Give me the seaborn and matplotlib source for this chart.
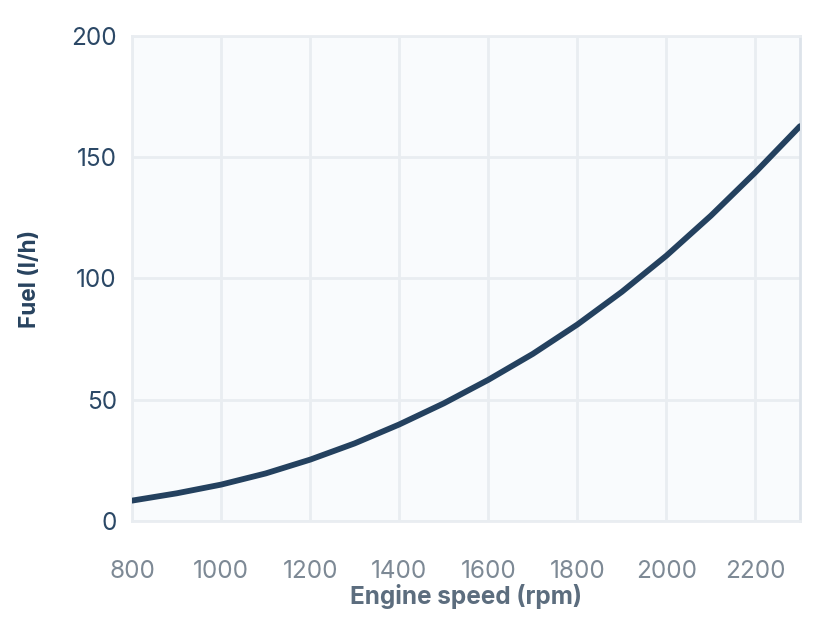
import matplotlib
matplotlib.use("Agg")
import matplotlib.pyplot as plt
import seaborn as sns
import pandas as pd

rpm = [800, 900, 1000, 1100, 1200, 1300, 1400, 1500, 1600, 1700, 1800, 1900, 2000, 2100, 2200, 2300]
fuel = [8.4, 11.4, 15.0, 19.6, 25.3, 32.0, 39.8, 48.5, 58.2, 68.9, 81.0, 94.5, 109.4, 125.9, 143.8, 162.8]
xticks = [800, 1000, 1200, 1400, 1600, 1800, 2000, 2200]
yticks = [0, 50, 100, 150, 200]

df = pd.DataFrame({"rpm": rpm, "fuel": fuel})

sns.set_style("white")
plt.rcParams["font.family"] = ["Inter", "DejaVu Sans"]

fig = plt.figure(figsize=(8.18, 6.2), dpi=100)
ax = fig.add_axes([0.1614, 0.1597, 0.8166, 0.7823])
ax.set_facecolor("#f9fbfd")

sns.lineplot(data=df, x="rpm", y="fuel", ax=ax, color="#24415f", linewidth=4.2,
             zorder=3, solid_joinstyle="round")

ax.set_xlim(800, 2300)
ax.set_ylim(0, 200)
ax.set_xticks(xticks)
ax.set_yticks(yticks)
ax.grid(True, color="#e9edf1", linewidth=2)
ax.set_axisbelow(True)

for s in ["top", "left", "bottom"]:
    ax.spines[s].set_color("#e9edf1")
    ax.spines[s].set_linewidth(2)
ax.spines["right"].set_color("#dde3ea")
ax.spines["right"].set_linewidth(2)

ax.tick_params(axis="x", length=0, pad=28, labelsize=17.5, labelcolor="#7d8995")
ax.tick_params(axis="y", length=0, pad=11, labelsize=17.5, labelcolor="#2b4866")

ax.set_xlabel("Engine speed (rpm)", fontsize=17.5, fontweight="bold", color="#5c6d7e", labelpad=1)
ax.set_ylabel("Fuel (l/h)", fontsize=16.3, fontweight="bold", color="#28435f", labelpad=22)

fig.savefig("out.png", dpi=100)
